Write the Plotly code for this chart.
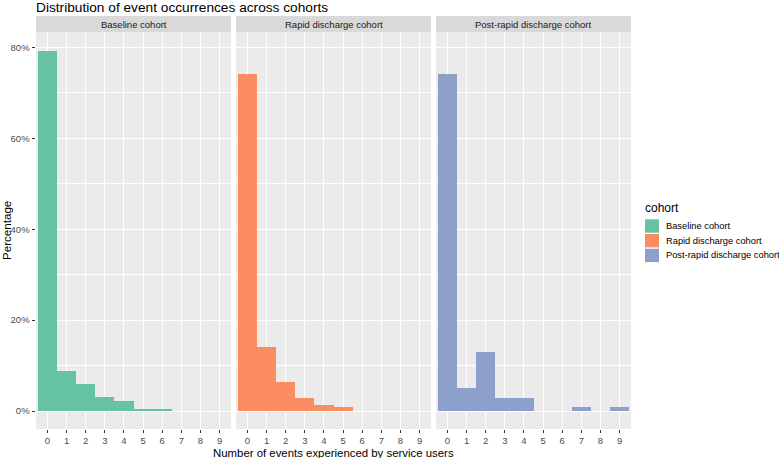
import plotly.graph_objects as go
from plotly.subplots import make_subplots

W, H = 779, 458

events = [0, 1, 2, 3, 4, 5, 6, 7, 8, 9]
cohorts = ["Baseline cohort", "Rapid discharge cohort", "Post-rapid discharge cohort"]
baseline_pct = [79.2, 8.9, 6.0, 3.0, 2.1, 0.3, 0.3, 0, 0, 0]
rapid_pct = [74.1, 14.0, 6.4, 2.9, 1.3, 0.9, 0, 0, 0, 0]
post_rapid_pct = [74.1, 5.1, 12.9, 2.9, 2.9, 0, 0, 0.9, 0, 0.9]
colors = ["#66C2A5", "#FC8D62", "#8DA0CB"]
y_ticks = [0, 20, 40, 60, 80]
y_tick_labels = ["0%", "20%", "40%", "60%", "80%"]

series = [baseline_pct, rapid_pct, post_rapid_pct]

FONT = "Liberation Sans, Arial, sans-serif"

fig = make_subplots(rows=1, cols=3, shared_yaxes=True, horizontal_spacing=0.0)

for i, (name, vals, col) in enumerate(zip(cohorts, series, colors)):
    fig.add_trace(
        go.Bar(
            x=events, y=vals, name=name, width=1.0,
            marker=dict(color=col, line=dict(width=0)),
            showlegend=False, hoverinfo="x+y",
        ),
        row=1, col=i + 1,
    )

# panel geometry in pixels
panels = [(36, 231), (236, 431), (436, 631)]
p_top, p_bot = 33, 429
strip_top, strip_bot = 16, 32.5

ymax = max(max(s) for s in series)
yrange = [-0.05 * ymax, 1.05 * ymax]

for i, (x0, x1) in enumerate(panels):
    ax = "xaxis" if i == 0 else f"xaxis{i+1}"
    ay = "yaxis" if i == 0 else f"yaxis{i+1}"
    fig.layout[ax].update(
        domain=[x0 / W, x1 / W], range=[-0.6, 9.6],
        tickmode="array", tickvals=events, ticktext=[str(e) for e in events],
        showgrid=True, gridcolor="white", gridwidth=1.1,
        ticks="outside", ticklen=3, tickcolor="#333333", tickwidth=1,
        tickfont=dict(family=FONT, size=9.5, color="#4D4D4D"),
        zeroline=False, showline=False, fixedrange=True, automargin=False,
    )
    fig.layout[ay].update(
        domain=[1 - p_bot / H, 1 - p_top / H], range=yrange,
        tickmode="array", tickvals=y_ticks, ticktext=y_tick_labels,
        showgrid=True, gridcolor="white", gridwidth=1.1,
        minor=dict(tickmode="array", tickvals=[10, 30, 50, 70], showgrid=True,
                   gridcolor="white", gridwidth=0.5, ticks=""),
        ticks="outside" if i == 0 else "", ticklen=3.5, tickcolor="#333333",
        showticklabels=(i == 0),
        tickfont=dict(family=FONT, size=9.5, color="#4D4D4D"),
        zeroline=False, showline=False, fixedrange=True, automargin=False,
    )
    # strip
    fig.add_shape(type="rect", xref="paper", yref="paper",
                  x0=x0 / W, x1=x1 / W, y0=1 - strip_bot / H, y1=1 - strip_top / H,
                  fillcolor="#D9D9D9", line=dict(width=0), layer="below")
    fig.add_annotation(text=cohorts[i], xref="paper", yref="paper",
                       x=(x0 + x1) / 2 / W, y=1 - (strip_top + strip_bot) / 2 / H,
                       xanchor="center", yanchor="middle", showarrow=False,
                       font=dict(family=FONT, size=9.5, color="#1A1A1A"))

# title
fig.add_annotation(text="Distribution of event occurrences across cohorts",
                   xref="paper", yref="paper", x=34 / W, y=1, xanchor="left",
                   yanchor="top", yshift=2, showarrow=False,
                   font=dict(family=FONT, size=13.7, color="black"))
# axis titles
fig.add_annotation(text="Number of events experienced by service users",
                   xref="paper", yref="paper", x=(36 + 631) / 2 / W, y=0,
                   xanchor="center", yanchor="bottom", yshift=-2, borderpad=0,
                   showarrow=False,
                   font=dict(family=FONT, size=11.4, color="black"))
fig.add_annotation(text="Percentage", xref="paper", yref="paper",
                   x=6 / W, y=1 - 231 / H, xanchor="center", yanchor="middle",
                   textangle=-90, showarrow=False,
                   font=dict(family=FONT, size=11.6, color="black"))

# legend (drawn as keys + labels, ggplot style)
key_x0, key_x1 = 645, 659
key_tops = [219.3, 234.0, 248.7]
key_h = 13.4
fig.add_annotation(text="cohort", xref="paper", yref="paper", x=643 / W, y=1 - 208 / H,
                   xanchor="left", yanchor="middle", showarrow=False,
                   font=dict(family=FONT, size=12, color="black"))
for name, col, kt in zip(cohorts, colors, key_tops):
    fig.add_shape(type="rect", xref="paper", yref="paper",
                  x0=key_x0 / W, x1=key_x1 / W, y0=1 - (kt + key_h) / H, y1=1 - kt / H,
                  fillcolor=col, line=dict(width=0))
    fig.add_annotation(text=name, xref="paper", yref="paper", x=664 / W,
                       y=1 - (kt + key_h / 2) / H, xanchor="left", yanchor="middle",
                       showarrow=False, font=dict(family=FONT, size=9.3, color="black"))

fig.update_layout(
    width=W, height=H,
    margin=dict(l=0, r=0, t=0, b=0, autoexpand=False),
    paper_bgcolor="white", plot_bgcolor="#EBEBEB",
    bargap=0, barmode="overlay",
    font=dict(family=FONT),
    showlegend=False,
)

fig.write_html("out.html", config={"displayModeBar": False},
               post_script="document.body.style.margin='0';document.body.style.overflow='hidden';")
